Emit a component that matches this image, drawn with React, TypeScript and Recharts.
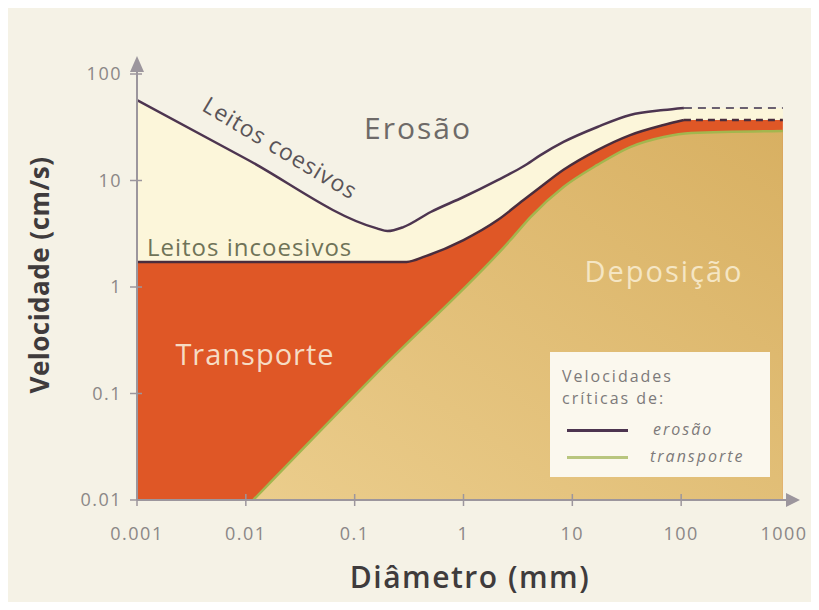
import React from "react";
import { ComposedChart, Area, Line, XAxis, YAxis, Legend } from "recharts";

const xTicks = [0.001, 0.01, 0.1, 1, 10, 100, 1000];
const xTickLabels = ["0.001", "0.01", "0.1", "1", "10", "100", "1000"];
const yTicks = [0.01, 0.1, 1, 10, 100];
const yTickLabels = ["0.01", "0.1", "1", "10", "100"];

// critical erosion velocity, cohesive beds (diameter mm -> velocity cm/s)
const cohesiveX = [0.001, 0.01, 0.16, 0.2, 0.28, 0.5, 1, 2.06, 3.56, 5.1, 8.3, 17, 34, 69, 106];
const cohesiveY = [57, 16, 3.55, 3.35, 3.65, 5.06, 7.0, 10.1, 13.6, 17.3, 23.0, 31.8, 41.2, 45.9, 48];
const cohesiveDashX = [106, 860];
const cohesiveDashY = [48, 48];

// critical erosion velocity, non-cohesive beds
const looseX = [0.001, 0.3, 0.45, 1, 2.06, 3.56, 5.1, 8.3, 17, 34, 69, 106];
const looseY = [1.72, 1.72, 1.95, 2.76, 4.25, 6.56, 8.69, 12.6, 19.3, 26.7, 33.2, 37];
const looseDashX = [106, 860];
const looseDashY = [37, 37];

// critical transport velocity (transport / deposition boundary)
const transportX = [0.0117, 0.17, 2.7, 4.13, 8.3, 17, 34, 69, 123, 860];
const transportY = [0.01, 0.166, 2.76, 4.54, 8.69, 14.0, 20.6, 25.6, 27.9, 29.2];

const W = 803;
const H = 594;
const FONT = "'Open Sans', 'DejaVu Sans', sans-serif";

const pts = (xs: number[], ys: number[]) => xs.map((x, i) => ({ x, y: ys[i] }));

const cohesive = pts(cohesiveX, cohesiveY);
const cohesiveFill = pts([...cohesiveX, 860], [...cohesiveY, 48]);
const cohesiveDash = pts(cohesiveDashX, cohesiveDashY);
const loose = pts(looseX, looseY);
const looseFill = pts([...looseX, 860], [...looseY, 37]);
const looseDash = pts(looseDashX, looseDashY);
const transport = pts(transportX, transportY);

const XTick = (props: any) => {
  const { x, y, payload } = props;
  const i = xTicks.indexOf(payload.value);
  const last = payload.value === 1000;
  return (
    <g>
      {!last && <line x1={x} x2={x} y1={y - 6} y2={y + 6} stroke="#9c969d" strokeWidth={1.5} />}
      <text
        x={last ? x - 6 : x}
        y={y + 40}
        textAnchor="middle"
        fill="#8b8787"
        fontSize={18}
        letterSpacing={1.5}
        fontFamily={FONT}
      >
        {xTickLabels[i]}
      </text>
    </g>
  );
};

const YTick = (props: any) => {
  const { x, y, payload } = props;
  const i = yTicks.indexOf(payload.value);
  return (
    <g>
      <line x1={x - 7} x2={x + 5} y1={y} y2={y} stroke="#9c969d" strokeWidth={1.5} />
      <text x={x - 15} y={y + 6} textAnchor="end" fill="#8b8787" fontSize={18} letterSpacing={1.5} fontFamily={FONT}>
        {yTickLabels[i]}
      </text>
    </g>
  );
};

const LegendBox = () => (
  <div
    style={{
      width: 220,
      height: 125,
      background: "#fbf8ee",
      fontFamily: FONT,
      color: "#7d7a7a",
      fontSize: 16,
      letterSpacing: 2,
      position: "relative",
    }}
  >
    <div style={{ position: "absolute", left: 12, top: 13, lineHeight: "22px" }}>
      Velocidades
      <br />
      críticas de:
    </div>
    <div style={{ position: "absolute", left: 17, top: 77, width: 61, height: 3, background: "#4d3550" }} />
    <div style={{ position: "absolute", left: 103, top: 66, fontStyle: "italic" }}>erosão</div>
    <div style={{ position: "absolute", left: 17, top: 104, width: 61, height: 3, background: "#b9c67e" }} />
    <div style={{ position: "absolute", left: 100, top: 93, fontStyle: "italic" }}>transporte</div>
  </div>
);

export default function App() {
  return (
    <div style={{ position: "relative", width: W, height: H, background: "#f5f2e6" }}>
      <ComposedChart width={W} height={H} margin={{ top: 66, right: 21, bottom: 62, left: 69 }}>
        <defs>
          <linearGradient id="depo" x1="0" y1="1" x2="1" y2="0">
            <stop offset="0%" stopColor="#ebcd8c" />
            <stop offset="100%" stopColor="#d8b062" />
          </linearGradient>
        </defs>
        <XAxis
          type="number"
          dataKey="x"
          scale="log"
          domain={[0.001, 1000]}
          allowDataOverflow
          ticks={xTicks}
          tick={<XTick />}
          tickSize={0}
          tickMargin={0}
          tickLine={false}
          height={40}
          axisLine={{ stroke: "#9c969d", strokeWidth: 2 }}
          label={{
            content: () => (
              <text x={462} y={580} textAnchor="middle" fill="#3f3b3c" fontSize={30} fontWeight={600} letterSpacing={1.5} fontFamily={FONT}>
                Diâmetro (mm)
              </text>
            ),
          }}
        />
        <YAxis
          type="number"
          dataKey="y"
          scale="log"
          domain={[0.01, 100]}
          allowDataOverflow
          ticks={yTicks}
          tick={<YTick />}
          tickSize={0}
          tickMargin={0}
          tickLine={false}
          width={60}
          axisLine={{ stroke: "#9c969d", strokeWidth: 2 }}
          label={{
            content: () => (
              <text
                transform="translate(41,267) rotate(-90)"
                textAnchor="middle"
                fill="#3f3b3c"
                fontSize={26}
                fontWeight={700}
                letterSpacing={0.5}
                fontFamily={FONT}
              >
                Velocidade (cm/s)
              </text>
            ),
          }}
        />
        <Area data={cohesiveFill} dataKey="y" type="monotone" baseValue={0.01} fill="#fcf6da" fillOpacity={1} stroke="none" isAnimationActive={false} />
        <Area data={looseFill} dataKey="y" type="monotone" baseValue={0.01} fill="#df5726" fillOpacity={1} stroke="none" isAnimationActive={false} />
        <Area data={transport} dataKey="y" type="monotone" baseValue={0.01} fill="url(#depo)" fillOpacity={1} stroke="none" isAnimationActive={false} />
        <Line data={transport} dataKey="y" type="monotone" stroke="#a3b64e" strokeWidth={2.5} dot={false} isAnimationActive={false} />
        <Line data={cohesive} dataKey="y" type="monotone" stroke="#4d3550" strokeWidth={2.5} dot={false} isAnimationActive={false} />
        <Line data={cohesiveDash} dataKey="y" type="linear" stroke="#6a6070" strokeWidth={2} strokeDasharray="8 6" dot={false} isAnimationActive={false} />
        <Line data={loose} dataKey="y" type="monotone" stroke="#4a2d3d" strokeWidth={2.5} dot={false} isAnimationActive={false} />
        <Line data={looseDash} dataKey="y" type="linear" stroke="#4a2d3d" strokeWidth={2.5} strokeDasharray="7 5" dot={false} isAnimationActive={false} />
        <Legend
          layout="vertical"
          align="center"
          verticalAlign="middle"
          wrapperStyle={{ left: 542, top: 344, width: 220, height: 125 }}
          content={() => <LegendBox />}
        />
      </ComposedChart>
      <svg width={W} height={H} style={{ position: "absolute", left: 0, top: 0, pointerEvents: "none" }}>
        <line x1={129} x2={129} y1={67} y2={56} stroke="#9c969d" strokeWidth={2} />
        <polygon points="129,48 122,64 136,64" fill="#9c969d" />
        <line x1={781} x2={784} y1={492} y2={492} stroke="#9c969d" strokeWidth={2} />
        <polygon points="792,492 778,485 778,499" fill="#9c969d" />
        <g fontFamily={FONT}>
          <text x={410} y={131} textAnchor="middle" fill="#6e6a68" fontSize={30} letterSpacing={2}>
            Erosão
          </text>
          <text x={0} y={0} transform="translate(268,147) rotate(31)" textAnchor="middle" fill="#5a5458" fontSize={23} letterSpacing={1}>
            Leitos coesivos
          </text>
          <text x={139} y={248} fill="#6f7358" fontSize={24} letterSpacing={1}>
            Leitos incoesivos
          </text>
          <text x={247} y={357} textAnchor="middle" fill="#f6dcc4" fontSize={29} letterSpacing={1}>
            Transporte
          </text>
          <text x={656} y={274} textAnchor="middle" fill="#f5e6c4" fontSize={29} letterSpacing={2}>
            Deposição
          </text>
        </g>
      </svg>
    </div>
  );
}
